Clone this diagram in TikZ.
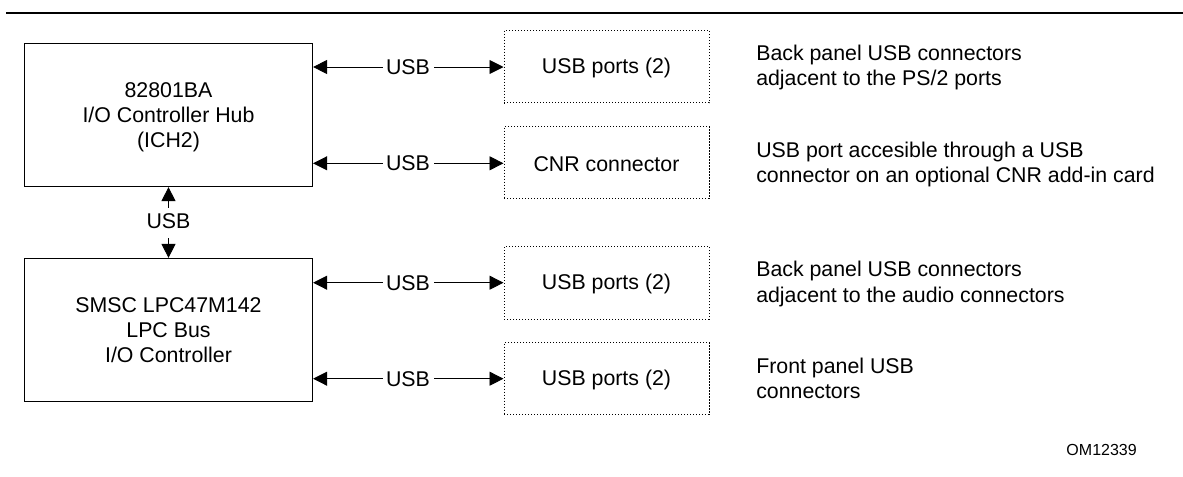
\documentclass[tikz,border=0pt]{standalone}
\usepackage{fontspec}
\setmainfont{Liberation Sans}
\usetikzlibrary{arrows.meta}
\newcommand{\porttext}[1]{\rule{0pt}{13.2pt}#1}
\tikzset{
  x=0.75pt,y=-0.75pt,
  mainbox/.style={draw=black,line width=0.9pt,minimum width=216pt,inner sep=0pt,align=center,font=\fontsize{16}{18.75}\selectfont},
  portbox/.style={draw=black,line width=0.75pt,dash pattern=on 0.8pt off 1.45pt,minimum width=153.75pt,inner sep=0pt,align=center,font=\fontsize{16}{18.4}\selectfont},
  lab/.style={inner sep=0pt,font=\fontsize{16}{18.4}\selectfont},
  note/.style={inner sep=0pt,anchor=west,align=left,font=\fontsize{16}{19.1}\selectfont},
  link/.style={line width=0.7pt,-{Triangle[length=10.5pt,width=10.5pt]}},
}
\begin{document}
\begin{tikzpicture}
\useasboundingbox (0,0) rectangle (1183,476);
\coordinate (ruleL) at (6,13);
\coordinate (ruleR) at (1183,13);
\draw[line width=1.5pt] (ruleL) -- (ruleR);
\node[mainbox,minimum height=107.25pt] (ich) at (168.5,115) {};
\node[inner sep=0pt,align=center,font=\fontsize{16}{18.75}\selectfont] (ichtext) at (168.5,117) {82801BA\\I/O Controller Hub\\(ICH2)};
\node[mainbox,minimum height=107.25pt] (lpc) at (168.5,330) {SMSC LPC47M142\\LPC Bus\\I/O Controller};
\node[portbox,minimum height=54.5pt] (p1) at (606.5,66.5) {\porttext{USB ports (2)}};
\node[portbox,minimum height=54pt] (p2) at (606.5,162.5) {\porttext{CNR connector}};
\node[portbox,minimum height=54.5pt] (p3) at (606.5,283) {\porttext{USB ports (2)}};
\node[portbox,minimum height=54pt] (p4) at (606.5,378.5) {\porttext{USB ports (2)}};
\node[lab] (u1) at (408,67) {USB};
\node[lab] (u2) at (408,163.3) {USB};
\node[lab] (u3) at (408,282.7) {USB};
\node[lab] (u4) at (408,378.7) {USB};
\node[lab] (uv) at (168.5,221.5) {USB};
\draw[link] (u1.west) ++(-3,0) -- (ich.east |- u1);
\draw[link] (u1.east) ++(4,0) -- (p1.west |- u1);
\draw[link] (u2.west) ++(-3,0) -- (ich.east |- u2);
\draw[link] (u2.east) ++(4,0) -- (p2.west |- u2);
\draw[link] (u3.west) ++(-3,0) -- (lpc.east |- u3);
\draw[link] (u3.east) ++(4,0) -- (p3.west |- u3);
\draw[link] (u4.west) ++(-3,0) -- (lpc.east |- u4);
\draw[link] (u4.east) ++(4,0) -- (p4.west |- u4);
\draw[link] (uv.north) ++(0,-6) -- (ich.south);
\draw[link] (uv.south) ++(0,9) -- (lpc.north);
\node[note] (n1) at (756,67.5) {Back panel USB connectors\\adjacent to the PS/2 ports};
\node[note] (n2) at (756,164.5) {USB port accesible through a USB\\connector on an optional CNR add-in card};
\node[note] (n3) at (756,284) {Back panel USB connectors\\adjacent to the audio connectors};
\node[note] (n4) at (756,378.5) {Front panel USB\\connectors};
\node[inner sep=0pt,anchor=east,font=\fontsize{12}{14}\selectfont] (om) at (1137,449.5) {OM12339};
\end{tikzpicture}
\end{document}
